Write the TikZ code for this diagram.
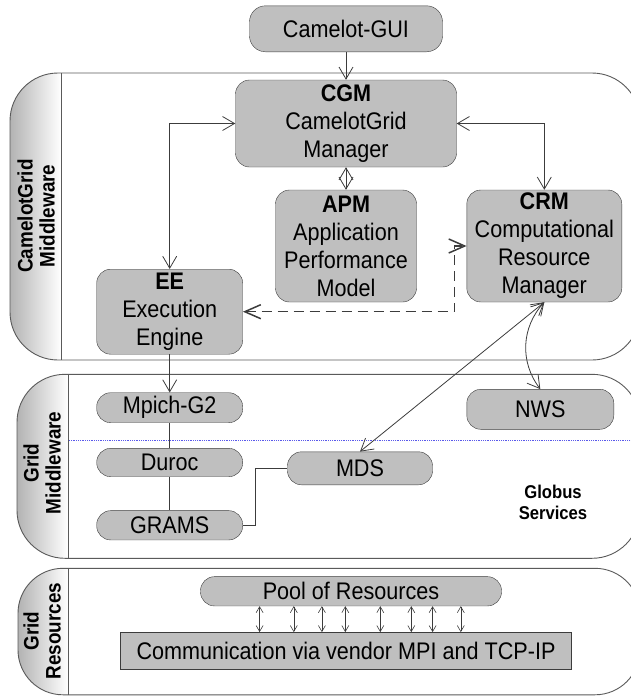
\documentclass[tikz,border=0pt]{standalone}
\usepackage{fontspec}
\setmainfont{Liberation Sans}
\newfontfamily\boxsans[FakeStretch=0.9]{Liberation Sans}
\usetikzlibrary{arrows.meta,positioning,calc}
\definecolor{cgfill}{RGB}{191,191,191}
\definecolor{cgedge}{RGB}{60,60,60}
\definecolor{cgpanel}{RGB}{90,90,90}
\definecolor{cgdots}{RGB}{90,90,235}
\newcommand{\boxfont}{\boxsans\fontsize{24}{28}\selectfont}
\newcommand{\tagfont}{\boxsans\fontsize{21}{22}\selectfont\bfseries}
\newcommand{\gsfont}{\boxsans\fontsize{18.5}{21}\selectfont\bfseries}

\begin{document}
\begin{tikzpicture}[x=1pt,y=-1pt,
  >={Straight Barb[length=12pt,width=14pt]},
  box/.style={draw=cgedge,fill=cgfill,rounded corners=14pt,align=center,font=\boxfont,inner sep=0pt},
  link/.style={cgedge,line width=0.8pt},
  dashlink/.style={cgedge,line width=1.5pt,dash pattern=on 10pt off 6pt,
    <->,>={Straight Barb[length=16pt,width=14pt]}},
  panel/.style={cgpanel,line width=0.9pt,rounded corners=48pt},
  tag/.style={rotate=90,align=center,font=\tagfont},
  ]
  \useasboundingbox (0,0) rectangle (631,696);
  \clip (0,0) rectangle (631,696);

  % CamelotGrid Middleware
  \begin{scope}
    \clip[rounded corners=48pt] (10,73) rectangle (640,360);
    \shade[left color=gray!60,right color=white] (10,73) rectangle (61,360);
  \end{scope}
  \draw[panel] (10,73) rectangle (640,360);
  \draw[panel] (61,73) -- (61,360);
  \node[tag] (tagcg) at (36,216) {CamelotGrid\\Middleware};

  % Grid Middleware
  \begin{scope}
    \clip[rounded corners=48pt] (17,374.3) rectangle (640,558.3);
    \shade[left color=gray!60,right color=white] (17,374.3) rectangle (68,558.3);
  \end{scope}
  \draw[panel] (17,374.3) rectangle (640,558.3);
  \draw[panel] (68,374.3) -- (68,558.3);
  \node[tag] (taggm) at (42,463) {Grid\\Middleware};

  % Grid Resources
  \begin{scope}
    \clip[rounded corners=45pt] (18,568.3) rectangle (640,694.8);
    \shade[left color=gray!60,right color=white] (18,568.3) rectangle (68,694.8);
  \end{scope}
  \draw[panel,rounded corners=45pt] (18,568.3) rectangle (640,694.8);
  \draw[panel] (68,568.3) -- (68,694.8);
  \node[tag] (taggr) at (42,631) {Grid\\Resources};

  \draw[cgdots,densely dotted,line width=0.8pt] (69,440.7) -- (631,440.7);

  % boxes
  \node[box,minimum width=193pt,minimum height=46pt,rounded corners=16pt] (gui) at (346,28.8) {Camelot-GUI};
  \node[box,minimum width=221pt,minimum height=87pt] (cgm) at (346,123.5) {\textbf{CGM}\\CamelotGrid\\Manager};
  \node[box,minimum width=141pt,minimum height=112pt] (apm) at (346,246) {\textbf{APM}\\Application\\Performance\\Model};
  \node[box,minimum width=155pt,minimum height=112pt] (crm) at (544.3,246) {\textbf{CRM}\\Computational\\Resource\\Manager};
  \node[box,minimum width=146pt,minimum height=85pt] (ee) at (169.7,311.7) {\textbf{EE}\\Execution\\Engine};

  \node[box,minimum width=146pt,minimum height=30pt] (mpich) at (169.7,407.7) {Mpich-G2};
  \node[box,minimum width=147pt,minimum height=40pt] (nws) at (540.3,409.3) {NWS};
  \node[box,minimum width=146pt,minimum height=28.4pt] (duroc) at (169.7,462.5) {Duroc};
  \node[box,minimum width=145pt,minimum height=33pt] (mds) at (360,468.3) {MDS};
  \node[box,minimum width=146pt,minimum height=29.3pt] (grams) at (169.7,525.3) {GRAMS};
  \node[align=center,font=\gsfont] (globus) at (553,502.5) {Globus\\Services};

  \node[box,minimum width=301pt,minimum height=29.3pt] (pool) at (351,591.3) {Pool of Resources};
  \node[box,rounded corners=0pt,minimum width=451pt,minimum height=37pt] (comm) at (346,650.8) {Communication via vendor MPI and TCP-IP};

  % links
  \coordinate (dashx) at (454.7,0);
  \draw[link,->] (gui.south) -- (cgm.north);
  \draw[link,<->] (cgm.west) -| (ee.north);
  \draw[link,<->] (cgm.east) -| (crm.north);
  \draw[link,<->] (cgm.south) -- (apm.north);
  \draw[dashlink] (ee.east) -| (dashx |- crm.west) -- (crm.west);
  \draw[link,->] (ee.south) -- (mpich.north);
  \draw[link] (mpich.south) -- (duroc.north);
  \draw[link] (duroc.south) -- (grams.north);
  \draw[link] (grams.east) -- ++(12.5,0) |- (mds.west);
  \draw[link,<->] (crm.south) -- (mds.north);
  \draw[link,<->] (crm.south) to[bend right=40] (nws.north);

  \foreach \x in {259.6,293.8,321.9,345.3,380.3,411.3,432.6,460.8}
    \draw[link,line width=0.6pt,<->,>={Straight Barb[length=6pt,width=7pt]}] (\x,0 |- pool.south) -- (\x,0 |- comm.north);
\end{tikzpicture}
\end{document}
